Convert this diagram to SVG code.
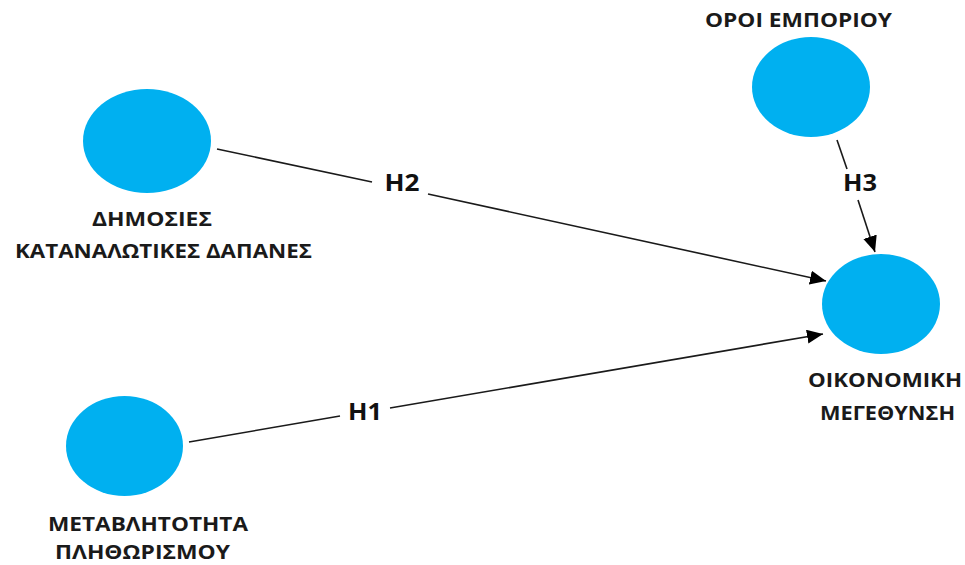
<svg xmlns="http://www.w3.org/2000/svg" width="965" height="565" viewBox="0 0 965 565">
  <style>
    .node { fill: #00B0F0; }
    .lbl { font-family: "Open Sans", "Liberation Sans", sans-serif; font-weight: 700; font-size: 20px; fill: #1a1a1a; text-anchor: middle; }
    .hl { font-family: "Open Sans", "Liberation Sans", sans-serif; font-weight: 700; font-size: 24px; fill: #111; text-anchor: middle; }
    .edge { stroke: #1a1a1a; stroke-width: 1.6; fill: none; }
  </style>
  <defs>
    <marker id="arrow" markerUnits="userSpaceOnUse" markerWidth="17" markerHeight="15" refX="16" refY="7" orient="auto">
      <path d="M0,0 L16,7 L0,14 z" fill="#000"/>
    </marker>
  </defs>
  <rect width="965" height="565" fill="#fff"/>

  <g id="connectors">
    <line class="edge" x1="217" y1="149" x2="372" y2="182"/>
    <line class="edge" x1="428" y1="194" x2="826" y2="281" marker-end="url(#arrow)"/>
    <line class="edge" x1="189" y1="442" x2="340" y2="416"/>
    <line class="edge" x1="390" y1="408" x2="823" y2="334" marker-end="url(#arrow)"/>
    <line class="edge" x1="837" y1="140" x2="847" y2="169"/>
    <line class="edge" x1="858" y1="200" x2="875" y2="252" marker-end="url(#arrow)"/>
    <text class="hl" x="402" y="191" textLength="35" lengthAdjust="spacingAndGlyphs">H2</text>
    <text class="hl" x="365" y="420" textLength="34" lengthAdjust="spacingAndGlyphs">H1</text>
    <text class="hl" x="860" y="191" textLength="34" lengthAdjust="spacingAndGlyphs">H3</text>
  </g>

  <g id="dimosies">
    <ellipse class="node" cx="147" cy="141" rx="64" ry="52"/>
    <text class="lbl" x="152" y="226" textLength="120" lengthAdjust="spacingAndGlyphs">ΔΗΜΟΣΙΕΣ</text>
    <text class="lbl" x="163.5" y="258" textLength="297" lengthAdjust="spacingAndGlyphs">ΚΑΤΑΝΑΛΩΤΙΚΕΣ ΔΑΠΑΝΕΣ</text>
  </g>

  <g id="oroi">
    <ellipse class="node" cx="811" cy="87" rx="59" ry="50"/>
    <text class="lbl" x="798.5" y="27" textLength="187" lengthAdjust="spacingAndGlyphs">ΟΡΟΙ ΕΜΠΟΡΙΟΥ</text>
  </g>

  <g id="metavlitotita">
    <ellipse class="node" cx="124.5" cy="446" rx="58.5" ry="50"/>
    <text class="lbl" x="148" y="531" textLength="200" lengthAdjust="spacingAndGlyphs">ΜΕΤΑΒΛΗΤΟΤΗΤΑ</text>
    <text class="lbl" x="142.5" y="559" textLength="175" lengthAdjust="spacingAndGlyphs">ΠΛΗΘΩΡΙΣΜΟΥ</text>
  </g>

  <g id="oikonomiki">
    <ellipse class="node" cx="881" cy="304" rx="59" ry="50"/>
    <text class="lbl" x="885" y="387" textLength="154" lengthAdjust="spacingAndGlyphs">ΟΙΚΟΝΟΜΙΚΗ</text>
    <text class="lbl" x="887.5" y="420" textLength="135" lengthAdjust="spacingAndGlyphs">ΜΕΓΕΘΥΝΣΗ</text>
  </g>
</svg>
